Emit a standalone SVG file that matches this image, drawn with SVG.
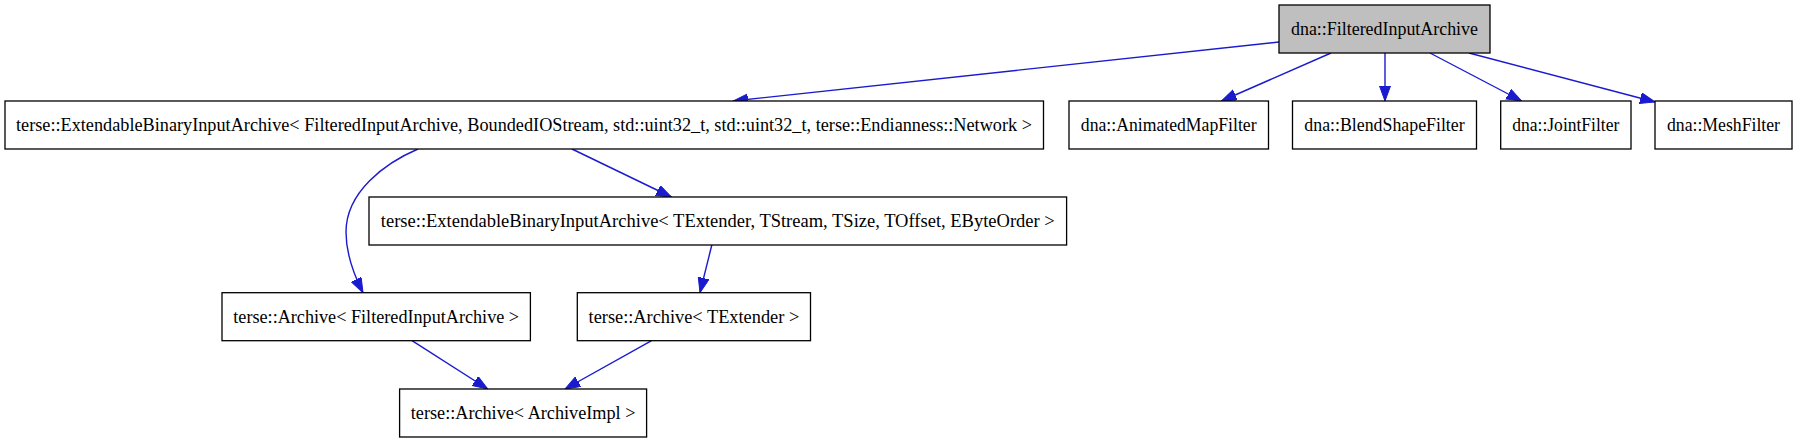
<svg xmlns="http://www.w3.org/2000/svg" width="1797" height="443" viewBox="0 0 1797 443">
<style>
.n rect{fill:#ffffff;stroke:#000000;stroke-width:1.3}
.n.root rect{fill:#bfbfbf}
.n text{font-size:18px;fill:#000000;text-anchor:middle}
.e path{fill:none;stroke:#1a1acf;stroke-width:1.4;marker-end:url(#ah)}
</style>
<defs>
<marker id="ah" markerUnits="userSpaceOnUse" markerWidth="16" markerHeight="12" refX="15" refY="5.5" orient="auto">
<path d="M0,0 L15,5.5 L0,11 z" fill="#1a1acf" stroke="#1a1acf" stroke-width="1"/>
</marker>
</defs>
<rect x="0" y="0" width="1797" height="443" fill="#ffffff"/>
<g id="edges" class="e">
<path d="M1279,42 L733,101"/>
<path d="M1331,53 L1221.5,101"/>
<path d="M1385,53 L1385,101"/>
<path d="M1430,53 L1521.6,101"/>
<path d="M1469,53 L1655,102"/>
<path d="M418,149 C385,163 346,192 346,232 C346,255 354,275 363,292.7"/>
<path d="M572,149 L671.4,197"/>
<path d="M711.8,245 L700,292.7"/>
<path d="M412,340.7 L487.7,389"/>
<path d="M651.6,340.7 L565,389"/>
</g>
<g font-family="'Liberation Serif', 'DejaVu Serif', serif">
<g id="node_FilteredInputArchive" class="n root">
<rect x="1279" y="5" width="211" height="48"/>
<text x="1384.5" y="35" textLength="187" lengthAdjust="spacingAndGlyphs">dna::FilteredInputArchive</text>
</g>
<g id="node_ExtBinFIA" class="n">
<rect x="5" y="101" width="1038.5" height="48"/>
<text x="524" y="131" textLength="1016" lengthAdjust="spacingAndGlyphs">terse::ExtendableBinaryInputArchive&lt; FilteredInputArchive, BoundedIOStream, std::uint32_t, std::uint32_t, terse::Endianness::Network &gt;</text>
</g>
<g id="node_AnimatedMapFilter" class="n">
<rect x="1069" y="101" width="199.5" height="48"/>
<text x="1168.7" y="131" textLength="175.7" lengthAdjust="spacingAndGlyphs">dna::AnimatedMapFilter</text>
</g>
<g id="node_BlendShapeFilter" class="n">
<rect x="1292.5" y="101" width="184" height="48"/>
<text x="1384.5" y="131" textLength="160.3" lengthAdjust="spacingAndGlyphs">dna::BlendShapeFilter</text>
</g>
<g id="node_JointFilter" class="n">
<rect x="1500.7" y="101" width="130.3" height="48"/>
<text x="1565.8" y="131" textLength="107" lengthAdjust="spacingAndGlyphs">dna::JointFilter</text>
</g>
<g id="node_MeshFilter" class="n">
<rect x="1655" y="101" width="137" height="48"/>
<text x="1723.5" y="131" textLength="113" lengthAdjust="spacingAndGlyphs">dna::MeshFilter</text>
</g>
<g id="node_ExtBinTemplate" class="n">
<rect x="369" y="197" width="697.6" height="48"/>
<text x="717.8" y="227" textLength="674" lengthAdjust="spacingAndGlyphs">terse::ExtendableBinaryInputArchive&lt; TExtender, TStream, TSize, TOffset, EByteOrder &gt;</text>
</g>
<g id="node_ArchiveFIA" class="n">
<rect x="222" y="292.7" width="308.4" height="48"/>
<text x="376.2" y="322.7" textLength="285.8" lengthAdjust="spacingAndGlyphs">terse::Archive&lt; FilteredInputArchive &gt;</text>
</g>
<g id="node_ArchiveTExtender" class="n">
<rect x="577.3" y="292.7" width="233.2" height="48"/>
<text x="693.9" y="322.7" textLength="210.7" lengthAdjust="spacingAndGlyphs">terse::Archive&lt; TExtender &gt;</text>
</g>
<g id="node_ArchiveImpl" class="n">
<rect x="399.6" y="389" width="247" height="48"/>
<text x="523.1" y="419" textLength="224.6" lengthAdjust="spacingAndGlyphs">terse::Archive&lt; ArchiveImpl &gt;</text>
</g>
</g>
</svg>
